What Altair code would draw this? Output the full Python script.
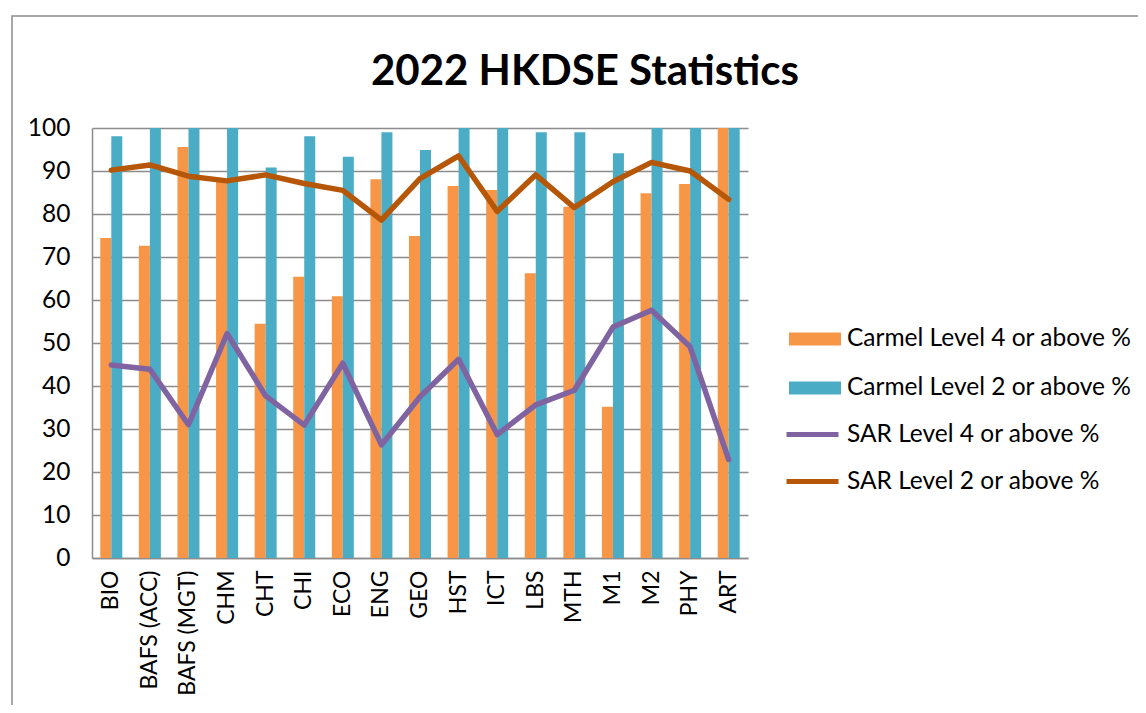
import altair as alt
import pandas as pd

title_text = "2022 HKDSE Statistics"
subjects = ["BIO", "BAFS (ACC)", "BAFS (MGT)", "CHM", "CHT", "CHI", "ECO", "ENG", "GEO",
            "HST", "ICT", "LBS", "MTH", "M1", "M2", "PHY", "ART"]
carmel_l4 = [74.4, 72.6, 95.6, 87.5, 54.5, 65.4, 60.9, 88.1, 74.9, 86.5, 85.6, 66.2, 81.7, 35.2, 84.8, 87.0, 100.0]
carmel_l2 = [98.1, 100.0, 100.0, 100.0, 90.8, 98.1, 93.3, 99.0, 94.9, 100.0, 100.0, 99.0, 99.0, 94.1, 100.0, 100.0, 100.0]
sar_l4 = [44.9, 43.9, 31.0, 52.2, 37.7, 30.9, 45.3, 26.3, 37.5, 46.2, 28.7, 35.6, 39.0, 53.7, 57.6, 49.1, 22.9]
sar_l2 = [90.2, 91.4, 88.8, 87.7, 89.1, 87.1, 85.5, 78.6, 88.2, 93.5, 80.6, 89.1, 81.5, 87.5, 92.0, 90.0, 83.4]

bar_names = ["Carmel Level 4 or above %", "Carmel Level 2 or above %"]
line_names = ["SAR Level 4 or above %", "SAR Level 2 or above %"]

bars = pd.DataFrame(
    [{"subject": s, "series": bar_names[0], "value": v} for s, v in zip(subjects, carmel_l4)]
    + [{"subject": s, "series": bar_names[1], "value": v} for s, v in zip(subjects, carmel_l2)]
)
lines = pd.DataFrame(
    [{"subject": s, "series": line_names[0], "value": v} for s, v in zip(subjects, sar_l4)]
    + [{"subject": s, "series": line_names[1], "value": v} for s, v in zip(subjects, sar_l2)]
)

FONT = "Lato"
x_enc = alt.X("subject:N", sort=subjects, title=None,
              scale=alt.Scale(paddingInner=0.43, paddingOuter=0.215),
              axis=alt.Axis(labelAngle=270, labelFontSize=23, labelFont=FONT, labelColor="black",
                            ticks=False, labelPadding=12, domainColor="#8c8c8c", domainWidth=1.5,
                            grid=False))
y_enc = alt.Y("value:Q", title=None,
              scale=alt.Scale(domain=[0, 100], nice=False),
              axis=alt.Axis(values=list(range(0, 101, 10)), labelFontSize=24.5, labelFont=FONT,
                            labelColor="black", ticks=False, labelPadding=22,
                            domainColor="#8c8c8c", domainWidth=1.5,
                            gridColor="#8c8c8c", gridWidth=1.5))

bar_layer = alt.Chart(bars).mark_bar().encode(
    x=x_enc,
    y=y_enc,
    xOffset=alt.XOffset("series:N", sort=bar_names),
    color=alt.Color("series:N", scale=alt.Scale(domain=bar_names, range=["#F79646", "#4BACC6"]),
                    legend=alt.Legend(title=None, orient="none", legendX=710, legendY=198,
                                      symbolType="M-2,-0.5L2,-0.5L2,0.5L-2,0.5Z", symbolSize=676,
                                      symbolStrokeWidth=0, labelOffset=19, rowPadding=24,
                                      labelFontSize=24.5, labelFont=FONT, labelColor="black",
                                      labelLimit=400)),
)

line_layer = alt.Chart(lines).mark_line(strokeWidth=5.5, strokeJoin="round", strokeCap="round").encode(
    x=alt.X("subject:N", sort=subjects),
    y=alt.Y("value:Q"),
    stroke=alt.Stroke("series:N", scale=alt.Scale(domain=line_names, range=["#8064A2", "#B65708"]),
                      legend=alt.Legend(title=None, orient="none", legendX=705, legendY=291,
                                        symbolType="M-2,0L2,0", symbolSize=676,
                                        symbolStrokeWidth=5, labelOffset=19, rowPadding=20,
                                        labelFontSize=24.5, labelFont=FONT, labelColor="black",
                                        labelLimit=400)),
)

border = alt.Chart(pd.DataFrame({"a": [0]})).mark_rect(fill=None, stroke="#8c8c8c", strokeWidth=1.5).encode(
    x=alt.value(-80), x2=alt.value(1200), y=alt.value(-112), y2=alt.value(900)
)

title_layer = alt.Chart(pd.DataFrame({"t": [title_text]})).mark_text(
    font=FONT, fontSize=42, fontWeight="bold", color="black", align="center", baseline="alphabetic"
).encode(x=alt.value(493), y=alt.value(-43), text="t:N")

chart = alt.layer(border, bar_layer, line_layer, title_layer).properties(
    width=656, height=430,
    autosize=alt.AutoSizeParams(type="none"),
    padding={"left": 84, "top": 120, "right": 390, "bottom": 147},
).configure_view(stroke=None)

chart.save("out.html", embed_options={"renderer": "svg", "actions": False})
